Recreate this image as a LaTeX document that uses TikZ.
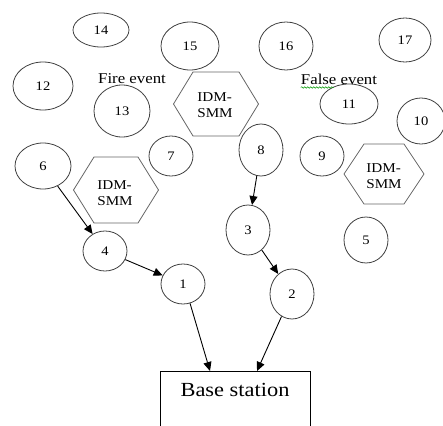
\documentclass[tikz,border=0pt]{standalone}
\usepackage{fontspec}
\setmainfont{Liberation Serif}[FakeStretch=1.12]
\usetikzlibrary{shapes.geometric,arrows.meta,decorations.pathmorphing,calc}
\begin{document}
\begin{tikzpicture}[x=1pt,y=-1pt,
  nd/.style={ellipse,draw=black!75,line width=0.8pt,inner sep=0pt,font=\fontsize{13}{13}\selectfont},
  hexline/.style={draw=black!60,line width=0.8pt},
  hextext/.style={align=left,font=\fontsize{13.5}{16}\selectfont,inner sep=0pt},
  lbl/.style={font=\fontsize{15}{15}\selectfont,inner sep=0pt},
  arr/.style={-{Triangle[length=9pt,width=8pt]},line width=0.9pt,black}]
\clip (0,0) rectangle (443,425);
\fill[white] (0,0) rectangle (443,425);
% ellipse nodes
\node[nd,minimum width=56pt,minimum height=34pt] (n14) at (101,30) {14};
\node[nd,minimum width=58pt,minimum height=48pt] (n15) at (190,46) {15};
\node[nd,minimum width=54pt,minimum height=48pt] (n16) at (286,46) {16};
\node[nd,minimum width=52pt,minimum height=44pt] (n17) at (405,40) {17};
\node[nd,minimum width=60pt,minimum height=48pt] (n12) at (43,86) {12};
\node[nd,minimum width=56pt,minimum height=52pt] (n13) at (122,111) {13};
\node[nd,minimum width=58pt,minimum height=40pt] (n11) at (349,104) {11};
\node[nd,minimum width=48pt,minimum height=46pt] (n10) at (421,121) {10};
\node[nd,minimum width=44pt,minimum height=40pt] (n7) at (171,156) {7};
\node[nd,minimum width=44pt,minimum height=52pt] (n8) at (261,150) {8};
\node[nd,minimum width=44pt,minimum height=40pt] (n9) at (322,156) {9};
\node[nd,minimum width=56pt,minimum height=46pt] (n6) at (43,166) {6};
\node[nd,minimum width=44pt,minimum height=50pt] (n3) at (248,230) {3};
\node[nd,minimum width=44pt,minimum height=46pt] (n5) at (366,240) {5};
\node[nd,minimum width=44pt,minimum height=40pt] (n4) at (105,251) {4};
\node[nd,minimum width=44pt,minimum height=40pt] (n1) at (183,284) {1};
\node[nd,minimum width=44pt,minimum height=50pt] (n2) at (292,294) {2};
% event labels
\node[lbl] (fire) at (132,79) {Fire event};
\node[lbl] (false) at (339,79) {False event};
\draw[green!60!black,line width=0.5pt,decorate,decoration={snake,amplitude=0.8pt,segment length=3pt}]
  ($(false.south west)+(0,3)$) -- ++(33,0);
% hexagons
\draw[hexline] (173.5,104) -- (193,72) -- (239,72) -- (258.5,104) -- (239,136) -- (193,136) -- cycle;
\node[hextext] (h1) at (215,105) {IDM-\\SMM};
\draw[hexline] (73.5,190) -- (94,157) -- (138,157) -- (158.5,190) -- (138,223) -- (94,223) -- cycle;
\node[hextext] (h2) at (115,193) {IDM-\\SMM};
\draw[hexline] (344,174) -- (364,144) -- (404,144) -- (424,174) -- (404,204) -- (364,204) -- cycle;
\node[hextext] (h3) at (384,176) {IDM-\\SMM};
% base station
\node[draw=black,line width=0.8pt,anchor=north,minimum width=150pt,text height=20pt,text depth=30pt,inner ysep=5pt,font=\fontsize{20}{20}\selectfont] (base) at (235,371) {Base station};
\coordinate (b1) at (210,371);
\coordinate (b2) at (257,371);
% arrows
\draw[arr] (n6) -- (n4);
\draw[arr] (n4) -- (n1);
\draw[arr] (n8) -- (n3);
\draw[arr] (n3) -- (n2);
\draw[arr] (n1.-70) -- (b1);
\draw[arr] (n2.-115) -- (b2);
\end{tikzpicture}
\end{document}
